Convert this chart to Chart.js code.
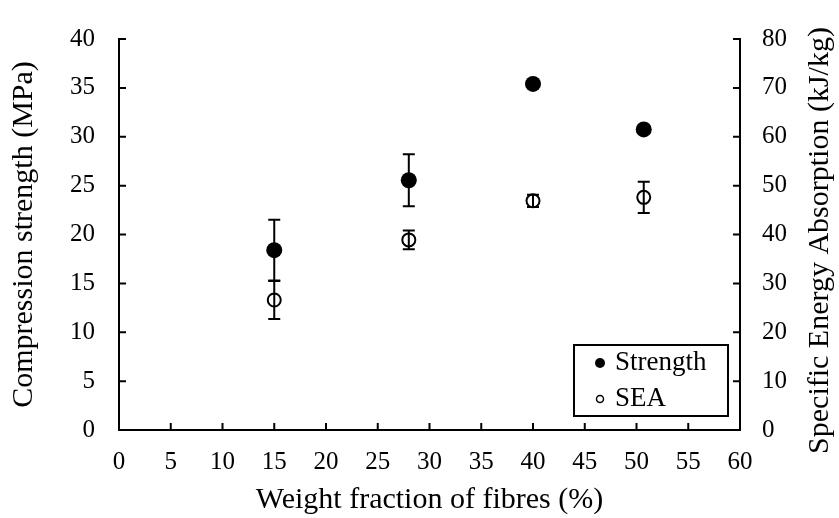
<html lang="en">
<head>
  <meta charset="utf-8" />
  <title>Compression strength and SEA</title>
  <style>
    * { margin: 0; padding: 0; box-sizing: border-box; }
    body { background: #ffffff; }
    .wrapper { width: 839px; height: 518px; position: relative; }
  </style>
</head>
<body>
  <div class="wrapper">
    <canvas id="chart" width="839" height="518"></canvas>
  </div>
  <script src="https://cdn.jsdelivr.net/npm/chart.js@4.4.1/dist/chart.umd.min.js"></script>
  <script>
    // Weight fraction of fibres (%)
    const fibres = [15, 28, 40, 50.7];
    // Compression strength (MPa) and its error
    const strength = [18.4, 25.55, 35.4, 30.75];
    const strengthErr = [3.1, 2.65, 0, 0];
    // Specific energy absorption (kJ/kg) and its error
    const sea = [26.6, 38.9, 46.9, 47.6];
    const seaErr = [3.9, 1.9, 1.25, 3.2];

    const FONT = "Liberation Serif";
    const tickFont = { family: FONT, size: 25 };
    const titleFont = { family: FONT, size: 30 };
    const legendSize = 27;

    // error bars drawn from the scales
    const errorBars = {
      id: "errorBars",
      afterDatasetsDraw(chart) {
        const ctx = chart.ctx;
        const x = chart.scales.x;
        ctx.save();
        ctx.strokeStyle = "#000";
        ctx.lineWidth = 2;
        chart.data.datasets.forEach((ds) => {
          const y = chart.scales[ds.yAxisID];
          ds.data.forEach((p, i) => {
            const e = ds.errors[i];
            if (!e) return;
            const px = x.getPixelForValue(p.x);
            const top = y.getPixelForValue(p.y + e);
            const bot = y.getPixelForValue(p.y - e);
            ctx.beginPath();
            ctx.moveTo(px, top); ctx.lineTo(px, bot);
            ctx.moveTo(px - 6, top); ctx.lineTo(px + 6, top);
            ctx.moveTo(px - 6, bot); ctx.lineTo(px + 6, bot);
            ctx.stroke();
          });
        });
        ctx.restore();
      }
    };

    // inward ticks, right title, legend box
    const decorations = {
      id: "decorations",
      afterDraw(chart) {
        const ctx = chart.ctx;
        const a = chart.chartArea;
        const { x, y, y1 } = chart.scales;
        ctx.save();
        ctx.strokeStyle = "#000";
        ctx.lineWidth = 2;
        ctx.beginPath();
        x.ticks.forEach((t) => {
          const px = x.getPixelForValue(t.value);
          ctx.moveTo(px, a.bottom); ctx.lineTo(px, a.bottom - 7);
        });
        y.ticks.forEach((t) => {
          const py = y.getPixelForValue(t.value);
          ctx.moveTo(a.left, py); ctx.lineTo(a.left + 7, py);
        });
        y1.ticks.forEach((t) => {
          const py = y1.getPixelForValue(t.value);
          ctx.moveTo(a.right, py); ctx.lineTo(a.right - 7, py);
        });
        ctx.stroke();

        // right axis title, reading bottom to top
        ctx.fillStyle = "#000";
        ctx.font = titleFont.size + "px " + FONT;
        ctx.textAlign = "center";
        ctx.textBaseline = "middle";
        ctx.save();
        ctx.translate(820, (a.top + a.bottom) / 2 + 6);
        ctx.rotate(-Math.PI / 2);
        ctx.fillText("Specific Energy Absorption (kJ/kg)", 0, 0);
        ctx.restore();

        // legend
        const lx = 574, ly = 345, lw = 154, lh = 71;
        ctx.fillStyle = "#fff";
        ctx.fillRect(lx, ly, lw, lh);
        ctx.strokeRect(lx, ly, lw, lh);
        ctx.fillStyle = "#000";
        ctx.beginPath();
        ctx.arc(600, 363, 5, 0, Math.PI * 2);
        ctx.fill();
        ctx.lineWidth = 1.5;
        ctx.beginPath();
        ctx.arc(600, 399, 3.5, 0, Math.PI * 2);
        ctx.stroke();
        ctx.font = legendSize + "px " + FONT;
        ctx.textAlign = "left";
        ctx.fillText(chart.data.datasets[0].label, 615, 363);
        ctx.fillText(chart.data.datasets[1].label, 615, 399);
        ctx.restore();
      }
    };

    new Chart(document.getElementById("chart"), {
      type: "scatter",
      plugins: [errorBars, decorations],
      data: {
        datasets: [
          {
            label: "Strength",
            data: fibres.map((f, i) => ({ x: f, y: strength[i] })),
            errors: strengthErr,
            yAxisID: "y",
            pointStyle: "circle",
            pointRadius: 8,
            pointBackgroundColor: "#000",
            pointBorderColor: "#000",
            pointBorderWidth: 0
          },
          {
            label: "SEA",
            data: fibres.map((f, i) => ({ x: f, y: sea[i] })),
            errors: seaErr,
            yAxisID: "y1",
            pointStyle: "circle",
            pointRadius: 6.5,
            pointBackgroundColor: "rgba(0,0,0,0)",
            pointBorderColor: "#000",
            pointBorderWidth: 2
          }
        ]
      },
      options: {
        responsive: false,
        animation: false,
        layout: { padding: { top: 22, left: 0, right: 0, bottom: 0 } },
        plugins: { legend: { display: false }, tooltip: { enabled: false } },
        scales: {
          x: {
            type: "linear",
            min: 0, max: 60,
            ticks: { stepSize: 5, color: "#000", font: tickFont, padding: 17, maxRotation: 0 },
            grid: { display: false, drawTicks: false },
            border: { color: "#000", width: 2 },
            title: { display: true, text: "Weight fraction of fibres (%)", color: "#000", font: titleFont, padding: { top: 0, bottom: 0 } },
            afterFit(s) { s.height = 88; }
          },
          y: {
            position: "left",
            min: 0, max: 40,
            ticks: { stepSize: 5, color: "#000", font: tickFont, padding: 24 },
            grid: { display: false, drawTicks: false },
            border: { color: "#000", width: 2 },
            title: { display: true, text: "Compression strength (MPa)", color: "#000", font: titleFont, padding: { top: 6, bottom: 0 } },
            afterFit(s) { s.width = 119; }
          },
          y1: {
            position: "right",
            min: 0, max: 80,
            ticks: { stepSize: 10, color: "#000", font: tickFont, padding: 22 },
            grid: { display: false, drawTicks: false },
            border: { color: "#000", width: 2 },
            afterFit(s) { s.width = 99; }
          }
        }
      }
    });
  </script>
</body>
</html>
